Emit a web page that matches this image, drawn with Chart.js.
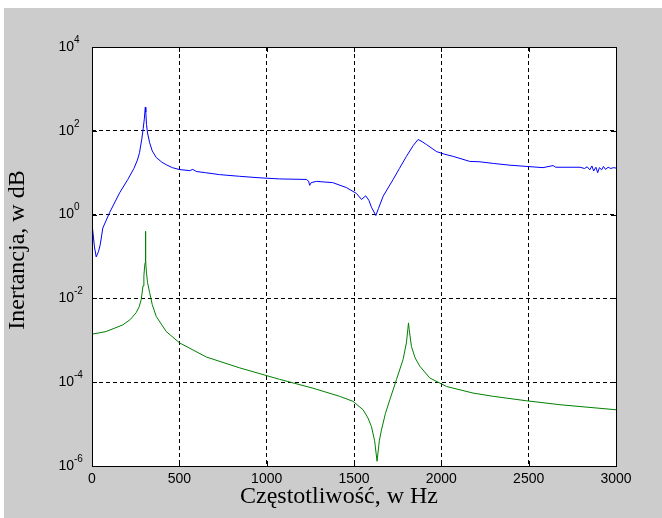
<!DOCTYPE html>
<html>
<head>
<meta charset="utf-8">
<script src="https://cdn.jsdelivr.net/npm/chart.js@4.4.1/dist/chart.umd.min.js"></script>
<style>
html,body{margin:0;padding:0;background:#fff;}
canvas{display:block;}
</style>
</head>
<body>
<canvas id="c" width="662" height="518"></canvas>
<script>
// ---- data ----
const xTickLabels = ['0','500','1000','1500','2000','2500','3000'];
const yTickExponents = ['-6','-4','-2','0','2','4'];
const xTitle = 'Częstotliwość, w Hz';
const yTitle = 'Inertancja, w dB';

const blueFreq = [0,0.5,5,14,24,37,47,62,100,158,205,240,260,272,285,293,300,305,308,312,318,330,345,368,400,425,460,501,560,577,597,650,730,845,950,1074,1227,1240,1246,1255,1285,1378,1457,1514,1543,1567,1585,1600,1625,1640,1667,1724,1760,1800,1840,1867,1890,1915,1972,2020,2068,2163,2221,2300,2393,2490,2582,2640,2655,2794,2820,2835,2850,2862,2872,2885,2895,2905,2918,2928,2940,2955,2970,2985,3000];
const blueVal = [3.6,1.1,0.48,0.17,0.098,0.13,0.19,0.48,1.1,3.3,6.9,12.6,20,30,63,112,200,363,282,141,89,52,33,23,17.8,15.5,13.2,11.9,11.2,12.0,10.7,10,9.0,8.2,7.6,7.1,6.9,6.3,5.0,5.8,6.2,5.8,4.4,3.2,2.3,2.8,2.2,1.5,0.95,1.4,2.75,6.9,12.6,24.5,45,62,55,47,32,27.5,24.5,18.6,18.2,16.6,15.1,14.1,13.2,14.8,13.5,13.5,12.6,13.8,11.7,14.5,11.0,13.5,10.0,13.2,11.7,14.1,12.0,13.5,12.6,13.2,12.9];

const greenFreq = [0,81,177,220,253,270,282,292,297,301,304,306,308,312,318,330,345,368,425,501,654,845,1074,1265,1418,1494,1552,1580,1600,1618,1632,1645,1657,1680,1705,1743,1781,1800,1808,1812,1816,1829,1850,1877,1934,2030,2182,2297,2488,2679,3000];
const greenVal = [0.0014,0.00162,0.00234,0.00316,0.00457,0.0063,0.0095,0.02,0.034,0.056,0.071,0.4,0.079,0.04,0.024,0.0138,0.0071,0.0037,0.00162,0.00087,0.0004,0.00022,0.000117,7.2e-5,4.6e-5,3.5e-5,2.2e-5,1.4e-5,8.7e-6,4.0e-6,1.3e-6,4.0e-6,7.2e-6,1.8e-5,3.8e-5,1.15e-4,3.5e-4,8.7e-4,1.8e-3,2.6e-3,1.8e-3,7.1e-4,3.8e-4,2.4e-4,1.26e-4,7.9e-5,5.5e-5,4.6e-5,3.6e-5,2.9e-5,2.2e-5];

const toPts = (xs, ys) => xs.map((x, i) => ({x: x, y: ys[i]}));

const decor = {
  id: 'decor',
  beforeDraw(chart) {
    const ctx = chart.ctx, a = chart.chartArea;
    ctx.save();
    ctx.fillStyle = '#ffffff';
    ctx.fillRect(0, 0, chart.width, chart.height);
    ctx.fillStyle = '#cccccc';
    ctx.fillRect(4, 8, chart.width - 4, chart.height - 8);
    ctx.fillStyle = '#ffffff';
    ctx.fillRect(a.left, a.top, a.right - a.left, a.bottom - a.top);
    ctx.restore();
  },
  afterDraw(chart) {
    const ctx = chart.ctx, a = chart.chartArea;
    const xs = chart.scales.x, ys = chart.scales.y;
    ctx.save();
    ctx.strokeStyle = '#000';
    ctx.lineWidth = 1;
    ctx.setLineDash([]);
    // inward tick marks
    const L = 5;
    ctx.beginPath();
    xTickLabels.forEach(t => {
      const px = Math.round(xs.getPixelForValue(Number(t))) + 0.5;
      ctx.moveTo(px, a.bottom); ctx.lineTo(px, a.bottom - L);
      ctx.moveTo(px, a.top); ctx.lineTo(px, a.top + L);
    });
    yTickExponents.forEach(e => {
      const py = Math.round(ys.getPixelForValue(Math.pow(10, Number(e)))) + 0.5;
      ctx.moveTo(a.left, py); ctx.lineTo(a.left + L, py);
      ctx.moveTo(a.right, py); ctx.lineTo(a.right - L, py);
    });
    ctx.stroke();
    // box
    ctx.strokeRect(Math.round(a.left) + 0.5, Math.round(a.top) + 0.5, Math.round(a.right - a.left), Math.round(a.bottom - a.top));
    // x tick labels
    ctx.fillStyle = '#000';
    ctx.font = '14px "Liberation Sans", Arial, sans-serif';
    ctx.textAlign = 'center';
    ctx.textBaseline = 'middle';
    xTickLabels.forEach(t => {
      ctx.fillText(t, xs.getPixelForValue(Number(t)), a.bottom + 13);
    });
    // y tick labels with superscript exponents
    yTickExponents.forEach(e => {
      const py = ys.getPixelForValue(Math.pow(10, Number(e)));
      ctx.font = '14px "Liberation Sans", Arial, sans-serif';
      ctx.textAlign = 'right';
      ctx.textBaseline = 'middle';
      ctx.fillText('10', a.left - 18, py);
      ctx.font = '10px "Liberation Sans", Arial, sans-serif';
      ctx.textAlign = 'left';
      ctx.fillText(e, a.left - 18, py - 7);
    });
    // axis titles
    ctx.font = '24px "Liberation Serif", "Times New Roman", serif';
    ctx.textAlign = 'center';
    ctx.textBaseline = 'middle';
    ctx.fillText(xTitle, 339, 497);
    ctx.translate(18, 250);
    ctx.rotate(-Math.PI / 2);
    ctx.fillText(yTitle, 0, 0);
    ctx.restore();
  }
};

new Chart(document.getElementById('c'), {
  type: 'line',
  data: {
    datasets: [
      {data: toPts(blueFreq, blueVal), borderColor: '#0000ff', borderWidth: 1, pointRadius: 0, tension: 0, fill: false},
      {data: toPts(greenFreq, greenVal), borderColor: '#008000', borderWidth: 1, pointRadius: 0, tension: 0, fill: false}
    ]
  },
  options: {
    responsive: false,
    animation: false,
    devicePixelRatio: 1,
    layout: {padding: {left: 92, top: 47, right: 46, bottom: 52}},
    plugins: {legend: {display: false}, tooltip: {enabled: false}},
    scales: {
      x: {
        type: 'linear', min: 0, max: 3000,
        ticks: {display: false, stepSize: 500},
        grid: {drawTicks: false, color: c => (c.tick && c.tick.value > 0 && c.tick.value < 3000) ? '#000' : 'rgba(0,0,0,0)', lineWidth: 1},
        border: {display: false, dash: [4, 3]}
      },
      y: {
        type: 'logarithmic', min: 1e-6, max: 1e4,
        afterBuildTicks: s => { s.ticks = yTickExponents.map(e => ({value: Math.pow(10, Number(e))})); },
        ticks: {display: false},
        grid: {drawTicks: false, color: c => (c.tick && c.tick.value > 1.5e-6 && c.tick.value < 0.9e4) ? '#000' : 'rgba(0,0,0,0)', lineWidth: 1},
        border: {display: false, dash: [4, 3]}
      }
    }
  },
  plugins: [decor]
});
</script>
</body>
</html>
